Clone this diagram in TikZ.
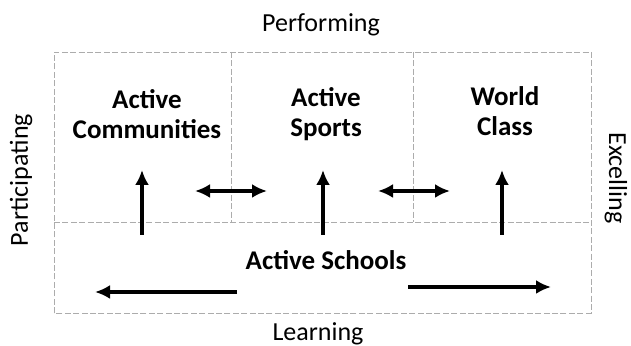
\documentclass[tikz,border=0pt]{standalone}
\usepackage{fontspec}
\setmainfont{Carlito}
\usetikzlibrary{arrows.meta,positioning}

\begin{document}
\begin{tikzpicture}[x=0.5pt,y=0.5pt]
	% Stiler
	\tikzstyle{felt}	=	[font=\fontsize{13.5}{15}\selectfont\bfseries, align=center]
	\tikzstyle{akse}	=	[font=\fontsize{13}{15}\selectfont, inner sep=0pt]
	\tikzstyle{ramme}	=	[gray!65, line width=0.4pt, dash pattern=on 3pt off 1.2pt]
	\tikzstyle{pil}		=	[line width=2pt, -{Latex[length=7.5pt,width=7pt]}]
	\tikzstyle{dobbelpil}	=	[line width=2pt, {Latex[length=7.5pt,width=7pt]}-{Latex[length=7.5pt,width=7pt]}]

	\useasboundingbox (0,0) rectangle (631,346);

	% Rammen
	\coordinate (nv) at (54,33);
	\coordinate (oh) at (591,294);
	\draw[ramme] (nv) rectangle (oh);
	\draw[ramme] (54,124) -- (591,124);
	\draw[ramme] (231,294) -- (231,124);
	\draw[ramme] (413,294) -- (413,124);

	% Feltene
	\node[felt]	(communities)	at (147,232)	{Active\\Communities};
	\node[felt]	(sports)	[right of=communities, node distance=89.5pt]	{Active\\Sports};
	\node[felt]	(world)		at (505,235)	{World\\Class};
	\node[felt]	(schools)	at (326,86)	{Active Schools};

	% Aksetekster
	\node[akse]	(performing)	at (321,321)	{Performing};
	\node[akse]	(learning)	at (318,12)	{Learning};
	\node[akse, rotate=90]	(participating)	at (21,166)	{Participating};
	\node[akse, rotate=-90]	(excelling)	at (616,168)	{Excelling};

	% Piler opp
	\foreach \x/\n in {142/a, 323/b, 502/c} {
		\coordinate (fra\n) at (\x,111);
		\coordinate (til\n) at (\x,176);
		\draw[pil] (fra\n) -- (til\n);
	}

	% Piler mellom feltene
	\coordinate (d1v) at (195,155);
	\coordinate (d1h) at (267,155);
	\coordinate (d2v) at (378,155);
	\coordinate (d2h) at (450,155);
	\draw[dobbelpil] (d1v) -- (d1h);
	\draw[dobbelpil] (d2v) -- (d2h);

	% Piler i bunnen
	\coordinate (bv1) at (237,54);
	\coordinate (bv2) at (95,54);
	\coordinate (bh1) at (408,59);
	\coordinate (bh2) at (551,59);
	\draw[pil] (bv1) -- (bv2);
	\draw[pil] (bh1) -- (bh2);
\end{tikzpicture}
\end{document}
